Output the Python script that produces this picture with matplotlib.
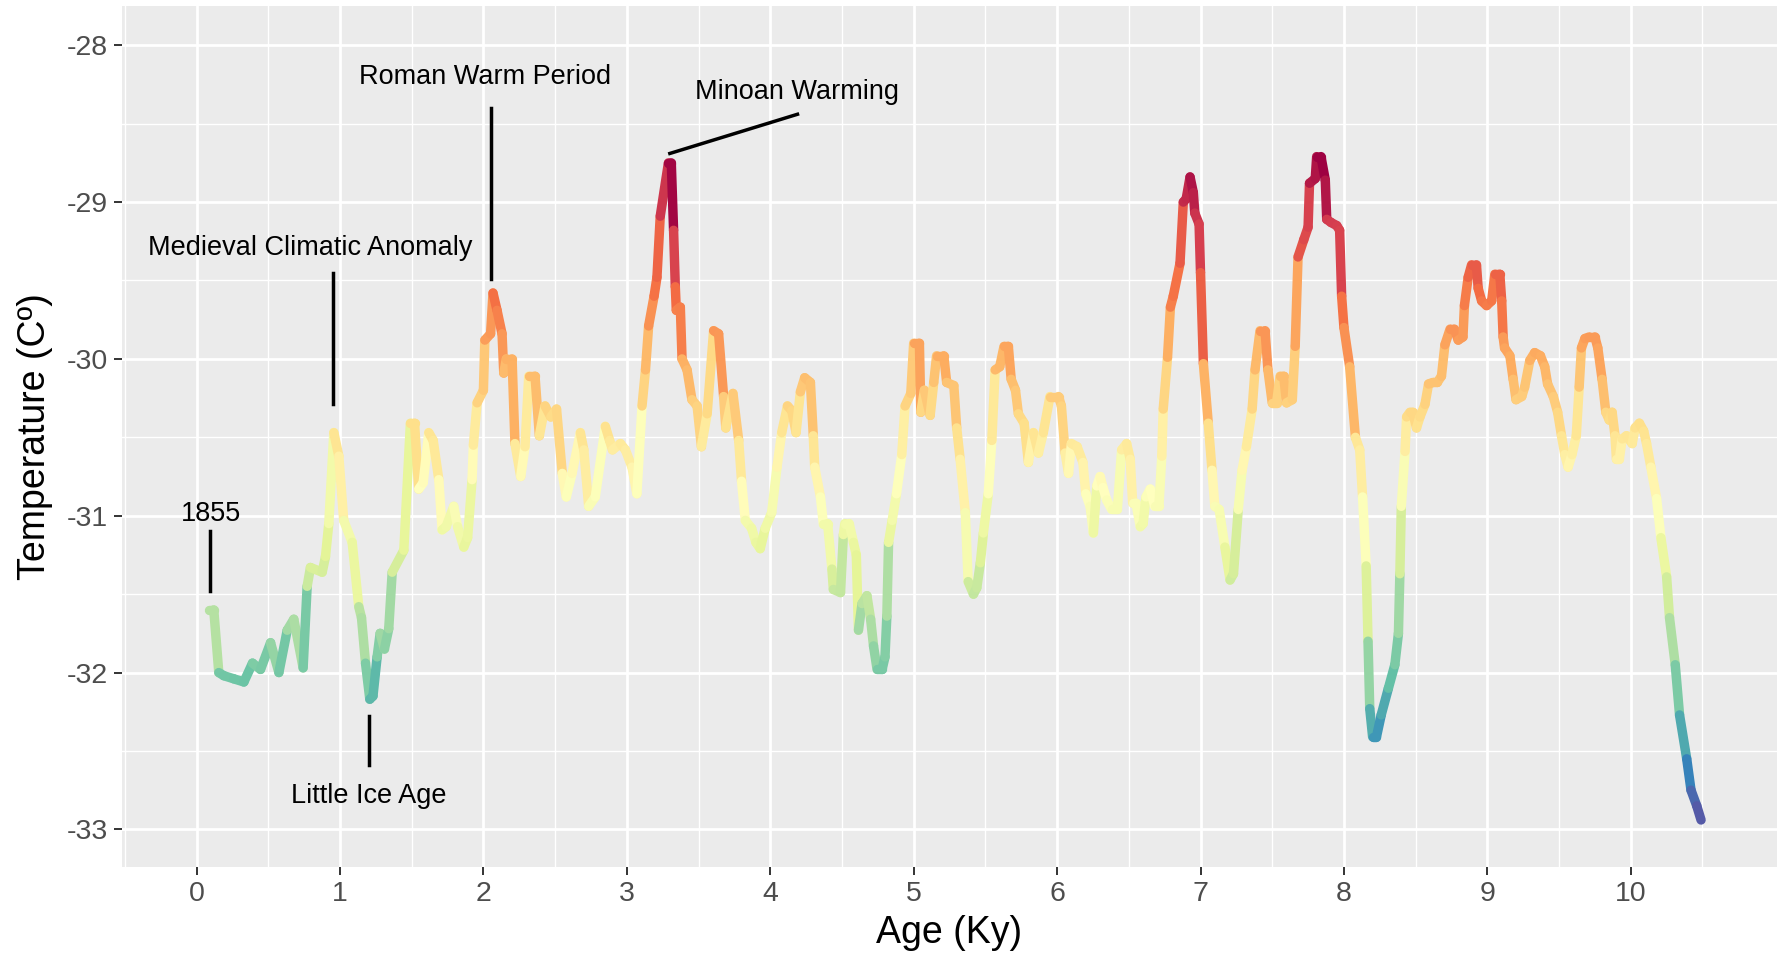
import numpy as np
import matplotlib
matplotlib.use("Agg")
import matplotlib.pyplot as plt
from matplotlib.collections import LineCollection

plt.rcParams['font.family'] = ['Liberation Sans', 'DejaVu Sans']
plt.rcParams['axes.unicode_minus'] = False

# GISP2-like temperature record
age = [0.086, 0.12, 0.155, 0.19, 0.26, 0.33, 0.39, 0.446, 0.516, 0.574, 0.632, 0.678,
       0.743, 0.771, 0.794, 0.876, 0.899, 0.922, 0.957, 0.992, 1.026, 1.085, 1.131, 1.15,
       1.178, 1.208, 1.23, 1.259, 1.28, 1.31, 1.34, 1.364, 1.445, 1.491, 1.52, 1.549,
       1.58, 1.619, 1.65, 1.689, 1.712, 1.74, 1.793, 1.82, 1.863, 1.89, 1.921, 1.93,
       1.956, 2.0, 2.01, 2.05, 2.067, 2.095, 2.13, 2.142, 2.16, 2.2, 2.22, 2.26,
       2.29, 2.316, 2.36, 2.39, 2.43, 2.47, 2.51, 2.55, 2.578, 2.618, 2.676, 2.7,
       2.734, 2.78, 2.85, 2.88, 2.9, 2.955, 2.99, 3.036, 3.07, 3.106, 3.13, 3.152,
       3.19, 3.21, 3.233, 3.29, 3.31, 3.326, 3.338, 3.345, 3.373, 3.385, 3.42, 3.454,
       3.49, 3.52, 3.56, 3.605, 3.64, 3.675, 3.69, 3.74, 3.78, 3.8, 3.826, 3.87,
       3.9, 3.93, 3.965, 4.01, 4.047, 4.08, 4.12, 4.15, 4.18, 4.21, 4.24, 4.28,
       4.3, 4.31, 4.35, 4.37, 4.4, 4.43, 4.44, 4.49, 4.51, 4.52, 4.55, 4.58,
       4.6, 4.615, 4.64, 4.674, 4.7, 4.72, 4.745, 4.78, 4.8, 4.813, 4.825, 4.85,
       4.88, 4.917, 4.94, 4.98, 5.0, 5.04, 5.05, 5.075, 5.115, 5.14, 5.16, 5.21,
       5.23, 5.28, 5.3, 5.324, 5.36, 5.38, 5.417, 5.44, 5.465, 5.486, 5.52, 5.545,
       5.568, 5.6, 5.63, 5.66, 5.68, 5.71, 5.73, 5.77, 5.8, 5.835, 5.87, 5.904,
       5.95, 6.01, 6.03, 6.056, 6.08, 6.1, 6.14, 6.18, 6.2, 6.23, 6.253, 6.277,
       6.3, 6.32, 6.346, 6.38, 6.42, 6.45, 6.485, 6.51, 6.527, 6.55, 6.58, 6.6,
       6.62, 6.65, 6.68, 6.71, 6.73, 6.74, 6.77, 6.79, 6.81, 6.857, 6.88, 6.9,
       6.927, 6.95, 6.96, 6.99, 7.0, 7.02, 7.054, 7.08, 7.1, 7.13, 7.17, 7.206,
       7.23, 7.263, 7.29, 7.32, 7.36, 7.38, 7.415, 7.45, 7.47, 7.5, 7.53, 7.555,
       7.58, 7.6, 7.64, 7.66, 7.68, 7.72, 7.75, 7.76, 7.8, 7.81, 7.84, 7.87,
       7.88, 7.91, 7.95, 7.97, 7.984, 8.0, 8.04, 8.08, 8.11, 8.13, 8.155, 8.168,
       8.18, 8.2, 8.227, 8.26, 8.31, 8.355, 8.38, 8.39, 8.4, 8.426, 8.437, 8.46,
       8.48, 8.506, 8.53, 8.565, 8.59, 8.62, 8.65, 8.68, 8.704, 8.74, 8.77, 8.797,
       8.83, 8.84, 8.866, 8.89, 8.924, 8.936, 8.96, 8.995, 9.03, 9.052, 9.087, 9.1,
       9.11, 9.12, 9.157, 9.18, 9.2, 9.24, 9.26, 9.296, 9.33, 9.37, 9.4, 9.42,
       9.46, 9.49, 9.517, 9.54, 9.563, 9.59, 9.62, 9.64, 9.656, 9.68, 9.71, 9.75,
       9.77, 9.8, 9.826, 9.85, 9.87, 9.89, 9.9, 9.92, 9.94, 9.97, 10.01, 10.03,
       10.06, 10.09, 10.11, 10.14, 10.18, 10.21, 10.25, 10.27, 10.31, 10.34, 10.39, 10.42,
       10.46, 10.49]
temp = [-31.60, -31.60, -32.00, -32.02, -32.04, -32.06, -31.94, -31.98, -31.81, -32.00, -31.73, -31.66,
        -31.97, -31.45, -31.33, -31.36, -31.26, -31.05, -30.47, -30.62, -31.03, -31.17, -31.58, -31.65,
        -31.94, -32.17, -32.15, -31.90, -31.75, -31.85, -31.72, -31.36, -31.22, -30.41, -30.41, -30.83,
        -30.79, -30.47, -30.52, -30.77, -31.09, -31.07, -30.94, -31.07, -31.20, -31.14, -30.77, -30.55,
        -30.28, -30.20, -29.88, -29.84, -29.58, -29.69, -29.84, -30.09, -30.00, -30.00, -30.54, -30.75,
        -30.56, -30.11, -30.11, -30.49, -30.30, -30.37, -30.32, -30.73, -30.88, -30.73, -30.47, -30.58,
        -30.94, -30.88, -30.43, -30.52, -30.58, -30.54, -30.58, -30.69, -30.86, -30.30, -30.07, -29.79,
        -29.60, -29.48, -29.09, -28.75, -28.75, -29.18, -29.54, -29.69, -29.67, -30.00, -30.07, -30.26,
        -30.30, -30.56, -30.35, -29.82, -29.84, -30.24, -30.44, -30.22, -30.52, -30.78, -31.03, -31.08,
        -31.17, -31.21, -31.08, -30.98, -30.69, -30.47, -30.30, -30.33, -30.47, -30.21, -30.12, -30.15,
        -30.49, -30.69, -30.88, -31.05, -31.05, -31.34, -31.47, -31.49, -31.12, -31.05, -31.05, -31.17,
        -31.25, -31.73, -31.56, -31.51, -31.66, -31.83, -31.98, -31.98, -31.90, -31.64, -31.17, -31.03,
        -30.86, -30.61, -30.30, -30.22, -29.90, -29.90, -30.34, -30.20, -30.36, -30.15, -29.98, -29.98,
        -30.15, -30.17, -30.44, -30.64, -30.98, -31.42, -31.50, -31.46, -31.30, -31.11, -30.86, -30.52,
        -30.07, -30.05, -29.92, -29.92, -30.13, -30.20, -30.35, -30.41, -30.66, -30.47, -30.60, -30.47,
        -30.24, -30.24, -30.30, -30.60, -30.73, -30.54, -30.56, -30.66, -30.86, -30.94, -31.11, -30.81,
        -30.75, -30.82, -30.90, -30.96, -30.96, -30.58, -30.54, -30.64, -30.92, -30.92, -31.07, -31.05,
        -30.88, -30.83, -30.94, -30.94, -30.62, -30.32, -29.99, -29.67, -29.60, -29.39, -29.00, -28.98,
        -28.84, -28.94, -29.07, -29.14, -29.45, -30.03, -30.41, -30.71, -30.94, -30.96, -31.20, -31.41,
        -31.37, -30.96, -30.71, -30.56, -30.32, -30.07, -29.82, -29.82, -30.07, -30.28, -30.28, -30.11,
        -30.11, -30.28, -30.26, -29.92, -29.35, -29.24, -29.16, -28.88, -28.85, -28.71, -28.71, -28.86,
        -29.11, -29.13, -29.15, -29.18, -29.60, -29.80, -30.05, -30.50, -30.58, -30.88, -31.32, -31.80,
        -32.23, -32.41, -32.41, -32.27, -32.10, -31.95, -31.75, -31.37, -30.94, -30.59, -30.37, -30.34,
        -30.34, -30.44, -30.37, -30.29, -30.16, -30.15, -30.15, -30.11, -29.91, -29.81, -29.81, -29.88,
        -29.86, -29.66, -29.48, -29.40, -29.40, -29.55, -29.63, -29.66, -29.63, -29.46, -29.46, -29.63,
        -29.86, -29.93, -29.98, -30.13, -30.26, -30.24, -30.18, -30.01, -29.96, -29.98, -30.05, -30.16,
        -30.24, -30.34, -30.49, -30.61, -30.69, -30.61, -30.49, -30.18, -29.93, -29.87, -29.86, -29.86,
        -29.93, -30.13, -30.34, -30.39, -30.34, -30.49, -30.64, -30.64, -30.51, -30.49, -30.54, -30.44,
        -30.41, -30.46, -30.54, -30.69, -30.89, -31.14, -31.39, -31.65, -31.95, -32.27, -32.55, -32.75,
        -32.85, -32.94]

# annotations: label, text position, segment start / end
labels = ["1855", "Medieval Climatic Anomaly", "Roman Warm Period", "Minoan Warming", "Little Ice Age"]
label_x = [0.1, 0.79, 2.01, 4.19, 1.2]
label_y = [-30.99, -29.29, -28.2, -28.3, -32.79]
seg_x0 = [0.095, 0.95, 2.055, 3.3, 1.2]
seg_y0 = [-31.48, -30.29, -29.49, -28.69, -32.28]
seg_x1 = [0.095, 0.95, 2.055, 4.19, 1.2]
seg_y1 = [-31.10, -29.45, -28.40, -28.44, -32.59]

x = np.array(age)
y = np.array(temp)

fig = plt.figure(figsize=(17.86, 9.59), dpi=100)
ax = fig.add_axes([0.0683, 0.0959, 0.9267, 0.8978])
ax.set_facecolor('#EBEBEB')

pts = np.column_stack([x, y]).reshape(-1, 1, 2)
segs = np.concatenate([pts[:-1], pts[1:]], axis=1)
norm = plt.Normalize(y.min(), y.max())
lc = LineCollection(segs, cmap='Spectral_r', norm=norm, linewidths=6.8, capstyle='round', zorder=3)
lc.set_array(y[:-1])
ax.add_collection(lc)

for i in range(len(labels)):
    ax.plot([seg_x0[i], seg_x1[i]], [seg_y0[i], seg_y1[i]], color='black', lw=2.5, zorder=4)
    ax.text(label_x[i], label_y[i], labels[i], ha='center', va='center', fontsize=19.5, zorder=5)

ax.set_xlim(-0.52, 11.02)
ax.set_ylim(-33.24, -27.75)
ax.set_xticks(range(0, 11))
ax.set_xticks(np.arange(-0.5, 11, 1), minor=True)
ax.set_yticks([-33, -32, -31, -30, -29, -28])
ax.set_yticks(np.arange(-32.5, -27.6, 1), minor=True)
ax.grid(which='major', color='white', lw=2.0)
ax.grid(which='minor', color='white', lw=1.0)
ax.set_axisbelow(True)
for s in ax.spines.values():
    s.set_visible(False)
ax.tick_params(which='major', length=6, width=1.4, color='#333333', labelsize=20.5,
               labelcolor='#4D4D4D', pad=4)
ax.tick_params(which='minor', length=0)

ax.set_xlabel('Age (Ky)', fontsize=27, labelpad=6)
ax.set_ylabel('Temperature (Cº)', fontsize=27, labelpad=10)

fig.savefig('out.png', dpi=100)
